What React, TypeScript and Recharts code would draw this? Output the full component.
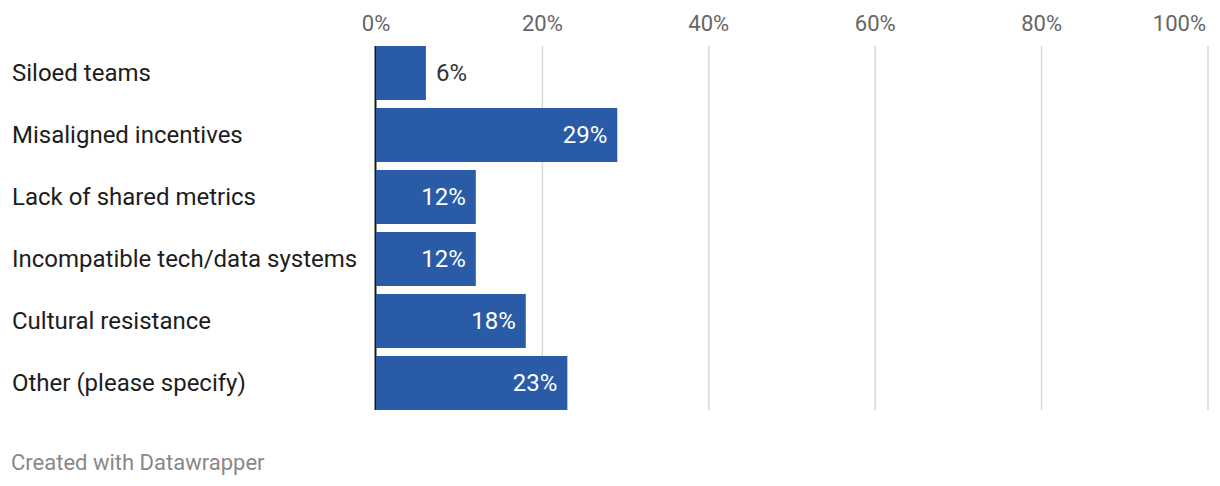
import { Bar, BarChart, CartesianGrid, LabelList, XAxis, YAxis } from "recharts";

const categories = [
  "Siloed teams",
  "Misaligned incentives",
  "Lack of shared metrics",
  "Incompatible tech/data systems",
  "Cultural resistance",
  "Other (please specify)",
];
const shares = [6, 29, 12, 12, 18, 23];
const xTicks = [0, 20, 40, 60, 80, 100];

const data = categories.map((name, i) => ({ name, value: shares[i] }));

const barColor = "#2a5ba7";
const font = "Roboto, 'Open Sans', sans-serif";

const TopTick = (props: any) => {
  const { x, payload, index } = props;
  const last = index === xTicks.length - 1;
  return (
    <text
      x={last ? x - 2 : x}
      y={31}
      textAnchor={last ? "end" : "middle"}
      fontSize={22}
      fontFamily={font}
      fill="#666"
    >
      {payload.value}%
    </text>
  );
};

const CategoryTick = (props: any) => {
  const { y, payload } = props;
  return (
    <text x={12} y={y} dy="0.35em" fontSize={24} fontFamily={font} fill="#1d1d1d">
      {payload.value}
    </text>
  );
};

const ValueLabel = (props: any) => {
  const { x, y, width, height, value } = props;
  const inside = width > 60;
  return (
    <text
      x={inside ? x + width - 10 : x + width + 10}
      y={y + height / 2}
      dy="0.35em"
      textAnchor={inside ? "end" : "start"}
      fontSize={24}
      fontFamily={font}
      fill={inside ? "#fff" : "#333"}
    >
      {value}%
    </text>
  );
};

const gridLine = (props: any) => {
  const isZero = props.index === 0;
  return (
    <line
      key={`grid-${props.index}`}
      x1={isZero ? props.x1 - 0.5 : props.x1}
      x2={isZero ? props.x2 - 0.5 : props.x2}
      y1={props.y1 + 4}
      y2={props.y2 - 4}
      stroke={isZero ? "#1a1a1a" : "#d9d9d9"}
      strokeWidth={isZero ? 2 : 1.5}
    />
  );
};

export default function App() {
  return (
    <div style={{ position: "relative", width: 1220, height: 486 }}>
      <style>{`body{margin:0}`}</style>
      <BarChart
        width={1220}
        height={486}
        data={data}
        layout="vertical"
        margin={{ top: 0, right: 12, bottom: 72, left: 0 }}
      >
        <CartesianGrid horizontal={false} vertical={gridLine} />
        <XAxis
          type="number"
          orientation="top"
          domain={[0, 100]}
          ticks={xTicks}
          height={42}
          axisLine={false}
          tickLine={false}
          tick={<TopTick />}
          interval={0}
        />
        <YAxis
          type="category"
          dataKey="name"
          width={376}
          axisLine={false}
          tickLine={false}
          tick={<CategoryTick />}
          interval={0}
        />
        <Bar dataKey="value" fill={barColor} barSize={54} isAnimationActive={false}>
          <LabelList dataKey="value" content={<ValueLabel />} />
        </Bar>
      </BarChart>
      <div
        style={{
          position: "absolute",
          left: 11,
          top: 452,
          fontFamily: font,
          fontSize: 22,
          lineHeight: "22px",
          color: "#888",
        }}
      >
        Created with Datawrapper
      </div>
    </div>
  );
}
